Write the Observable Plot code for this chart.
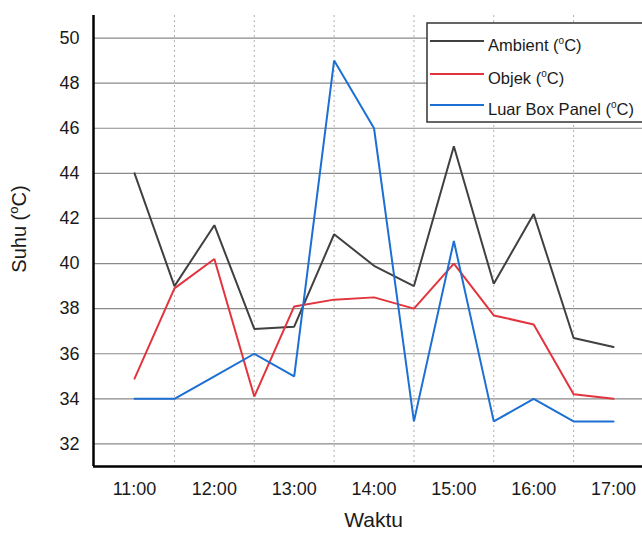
<!DOCTYPE html>
<html>
<head>
<meta charset="utf-8">
<script src="https://cdn.jsdelivr.net/npm/d3@7"></script>
<script src="https://cdn.jsdelivr.net/npm/@observablehq/plot@0.6"></script>
<style>
  html, body { margin: 0; padding: 0; background: #fff; }
  #chart { position: relative; width: 642px; height: 533px; overflow: hidden; }
  #chart svg { display: block; }
</style>
</head>
<body>
<div id="chart"></div>
<script>
// ---- data ----
const times = ["11:00","11:30","12:00","12:30","13:00","13:30","14:00","14:30","15:00","15:30","16:00","16:30","17:00"];
const ambient = [44.0, 39.0, 41.7, 37.1, 37.2, 41.3, 39.9, 39.0, 45.2, 39.1, 42.2, 36.7, 36.3];
const objek   = [34.9, 38.9, 40.2, 34.1, 38.1, 38.4, 38.5, 38.0, 40.0, 37.7, 37.3, 34.2, 34.0];
const luar    = [34.0, 34.0, 35.0, 36.0, 35.0, 49.0, 46.0, 33.0, 41.0, 33.0, 34.0, 33.0, 33.0];
const seriesNames = ["Ambient", "Objek", "Luar Box Panel"];
const seriesColors = ["#404040", "#e2343d", "#1c6fd3"];
const xTickLabels = ["11:00","12:00","13:00","14:00","15:00","16:00","17:00"];
const yTicks = [32, 34, 36, 38, 40, 42, 44, 46, 48, 50];
const yDomain = [31, 51];
const xDomain = [10.486, 17.363];

const hour = t => +t.slice(0, 2) + +t.slice(3) / 60;
const seriesValues = [ambient, objek, luar];
const rows = [];
seriesNames.forEach((name, i) => {
  times.forEach((t, j) => rows.push({series: name, h: hour(t), v: seriesValues[i][j]}));
});
const halfHours = times.filter(t => t.endsWith(":30")).map(hour);
const labelByHour = new Map(xTickLabels.map(t => [hour(t), t]));

const font = "'Liberation Sans', Arial, sans-serif";

const plot = Plot.plot({
  width: 642,
  height: 533,
  marginLeft: 93,
  marginTop: 15,
  marginBottom: 67,
  marginRight: 0,
  style: {fontFamily: font, color: "#1a1a1a", background: "#fff"},
  x: {type: "linear", domain: xDomain},
  y: {domain: yDomain},
  color: {domain: seriesNames, range: seriesColors},
  marks: [
    Plot.ruleY(yTicks, {stroke: "#8a8a8a", strokeWidth: 1.2}),
    Plot.ruleX(halfHours, {stroke: "#b0b0b0", strokeWidth: 1, strokeDasharray: "2,3"}),
    Plot.line(rows, {x: "h", y: "v", z: "series", stroke: "series", strokeWidth: 2, strokeLinejoin: "miter"}),
    Plot.ruleX([xDomain[0]], {stroke: "#000", strokeWidth: 2.5}),
    Plot.ruleY([yDomain[0]], {stroke: "#000", strokeWidth: 2.5}),
    Plot.axisX({ticks: xTickLabels.map(hour), tickFormat: d => labelByHour.get(d), tickSize: 0, tickPadding: 16, fontSize: 18, label: null}),
    Plot.axisY({ticks: yTicks, tickSize: 0, tickPadding: 14, fontSize: 18, label: null})
  ]
});

document.getElementById("chart").appendChild(plot);

// ---- axis titles and legend (text kept as real text) ----
const svg = d3.select(plot);
const xs = plot.scale("x");

svg.append("text")
  .attr("x", xs.apply(hour("14:00")))
  .attr("y", 527)
  .attr("text-anchor", "middle")
  .attr("font-family", font)
  .attr("font-size", 21)
  .attr("fill", "#1a1a1a")
  .text("Waktu");

const yt = svg.append("text")
  .attr("transform", "translate(26,229) rotate(-90)")
  .attr("text-anchor", "middle")
  .attr("font-family", font)
  .attr("font-size", 20)
  .attr("fill", "#1a1a1a");
yt.append("tspan").text("Suhu (");
yt.append("tspan").attr("font-size", 13).attr("dy", -8).text("o");
yt.append("tspan").attr("dy", 8).text("C)");

const lg = svg.append("g").attr("text-anchor", "start");
lg.append("rect")
  .attr("x", 427).attr("y", 23).attr("width", 240).attr("height", 99)
  .attr("fill", "#fff").attr("stroke", "#333").attr("stroke-width", 1.5);
const rowsY = [41, 74, 105];
seriesNames.forEach((name, i) => {
  lg.append("line")
    .attr("x1", 430).attr("x2", 484)
    .attr("y1", rowsY[i]).attr("y2", rowsY[i])
    .attr("stroke", seriesColors[i]).attr("stroke-width", 2);
  const t = lg.append("text")
    .attr("x", 488).attr("y", rowsY[i] + 10)
    .attr("text-anchor", "start")
    .attr("font-family", font)
    .attr("font-size", 16.5)
    .attr("fill", "#1a1a1a");
  t.append("tspan").text(name + " (");
  t.append("tspan").attr("font-size", 10).attr("dy", -7).text("o");
  t.append("tspan").attr("dy", 7).text("C)");
});
</script>
</body>
</html>
